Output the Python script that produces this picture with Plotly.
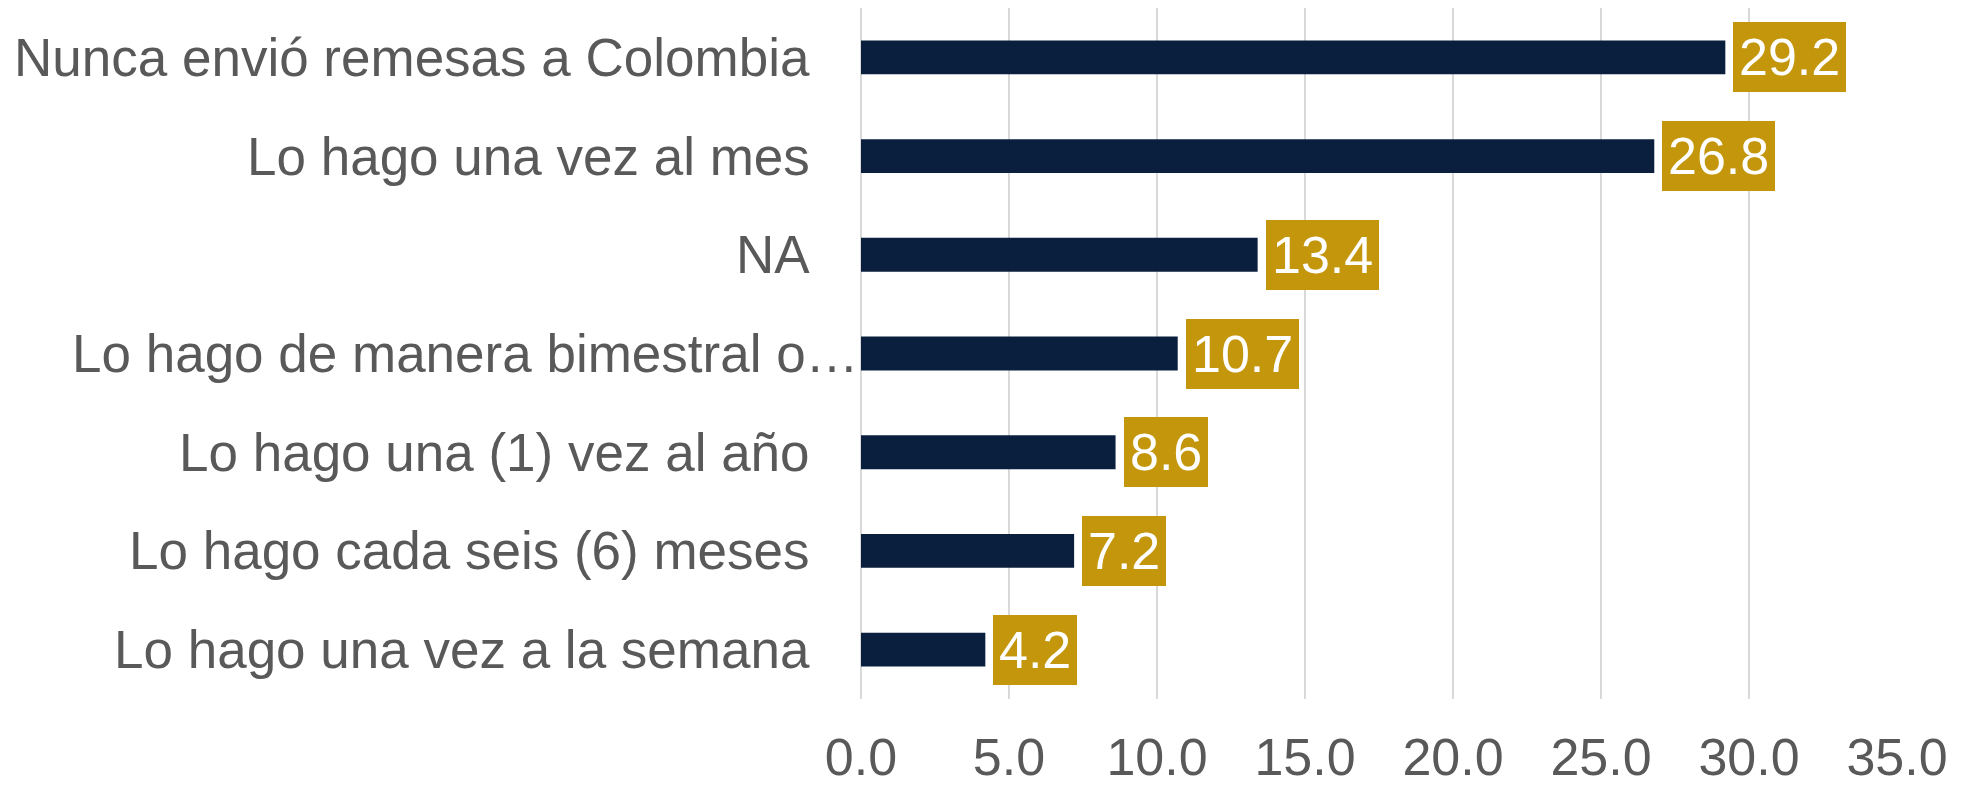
import plotly.graph_objects as go

categorias = [
    "Nunca envió remesas a Colombia",
    "Lo hago una vez al mes",
    "NA",
    "Lo hago de manera bimestral o…",
    "Lo hago una (1) vez al año",
    "Lo hago cada seis (6) meses",
    "Lo hago una vez a la semana",
]
porcentajes = [29.2, 26.8, 13.4, 10.7, 8.6, 7.2, 4.2]
ticks_x = [0, 5, 10, 15, 20, 25, 30, 35]

AZUL = "#0A1F3D"
DORADO = "#C4960C"
GRIS = "#595959"
FUENTE = "Liberation Sans, Arial, sans-serif"

fig = go.Figure(go.Bar(
    x=porcentajes,
    y=categorias,
    orientation="h",
    marker=dict(color=AZUL, line=dict(width=0)),
    hoverinfo="skip",
))

anotaciones = []
# etiquetas de valor con fondo dorado
for cat, val in zip(categorias, porcentajes):
    anotaciones.append(dict(
        x=val, y=cat, xref="x", yref="y",
        text=f"{val:.1f}", showarrow=False,
        xanchor="left", yanchor="middle", xshift=8,
        font=dict(family=FUENTE, size=52, color="white"),
        bgcolor=DORADO, borderpad=6, borderwidth=0,
    ))

# etiquetas de categoría (la truncada llega hasta el eje)
for cat in categorias:
    anotaciones.append(dict(
        x=0, y=cat, xref="paper", yref="y",
        text=cat, showarrow=False,
        xanchor="right", yanchor="middle",
        xshift=0 if cat.endswith("…") else -49,
        font=dict(family=FUENTE, size=53, color=GRIS),
    ))

# la página añade 8 px de margen al cuerpo, así que la figura es algo menor
fig.update_layout(
    width=1967, height=778,
    margin=dict(l=853, r=78, t=0, b=87),
    paper_bgcolor="white", plot_bgcolor="white",
    bargap=0.657,
    showlegend=False,
    annotations=anotaciones,
    font=dict(family=FUENTE, color=GRIS),
)
fig.update_xaxes(
    range=[0, 35],
    tickvals=ticks_x,
    ticktext=[f"{t:.1f}" for t in ticks_x],
    tickfont=dict(family=FUENTE, size=52, color=GRIS),
    showgrid=True, gridcolor="#D9D9D9", gridwidth=1.5,
    zeroline=True, zerolinecolor="#D9D9D9", zerolinewidth=1.5,
    showline=False, ticks="",
    ticklabelstandoff=23,
    automargin=False,
    fixedrange=True,
)
fig.update_yaxes(
    autorange="reversed",
    showticklabels=False,
    showgrid=False, zeroline=False, showline=False, ticks="",
    automargin=False,
    fixedrange=True,
)

fig.write_html("out.html")
